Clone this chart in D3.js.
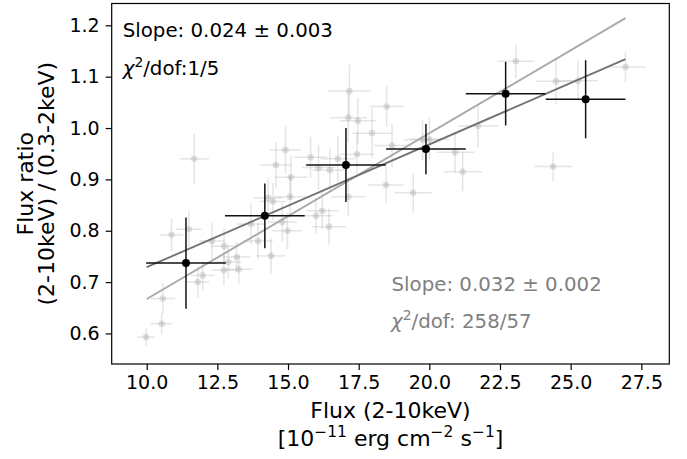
<!DOCTYPE html>
<meta charset="utf-8">
<style>
body { margin: 0; background: #fff; }
text { font-family: "DejaVu Sans", sans-serif; }
.axis path, .axis line { stroke: #000; stroke-width: 1.2px; }
.axis text { font-size: 19px; fill: #000; }
</style>
<body>
<script src="https://cdn.jsdelivr.net/npm/d3@7"></script>
<script>

// individual observations (grey)
var obsFlux  = [9.98, 10.53, 10.57, 10.88, 11.49, 11.68, 11.81, 11.98, 12.31, 12.73, 12.74, 12.89, 13.18,
                13.26, 13.69, 13.94, 14.30, 14.47, 14.40, 14.57, 14.91, 14.80, 14.98, 15.07, 15.10, 15.80,
                15.99, 16.08, 16.21, 16.45, 16.48, 16.76, 17.13, 17.17, 17.13, 17.47, 17.44, 17.97, 18.49,
                18.68, 18.47, 19.43, 19.76, 20.00, 20.91, 21.18, 21.72, 23.06, 24.48, 25.26, 26.94, 24.38];
var obsRatio = [0.593, 0.619, 0.668, 0.792, 0.803, 0.940, 0.700, 0.713, 0.780, 0.723, 0.770, 0.739, 0.749,
                0.725, 0.813, 0.780, 0.864, 0.857, 0.751, 0.928, 0.957, 0.817, 0.800, 0.866, 0.904, 0.943,
                0.829, 0.923, 0.839, 0.808, 0.918, 0.940, 0.866, 1.072, 1.020, 1.014, 0.949, 0.990, 1.042,
                0.966, 0.889, 0.874, 0.977, 0.978, 0.953, 0.915, 1.004, 1.130, 1.091, 1.092, 1.119, 0.925];
var obsFluxErr  = [0.31, 0.39, 0.43, 0.41, 0.45, 0.52, 0.40, 0.42, 0.45, 0.44, 0.48, 0.46, 0.50,
                   0.47, 0.50, 0.52, 0.50, 0.48, 0.52, 0.55, 0.55, 0.52, 0.54, 0.56, 0.58, 0.58,
                   0.57, 0.60, 0.58, 0.60, 0.62, 0.62, 0.60, 0.75, 0.66, 0.64, 0.62, 0.68, 0.60,
                   0.65, 0.62, 0.66, 0.68, 0.70, 0.66, 0.68, 0.70, 0.65, 0.72, 0.70, 0.72, 0.67];
var obsRatioErr = [0.017, 0.020, 0.030, 0.031, 0.035, 0.049, 0.030, 0.028, 0.035, 0.030, 0.036, 0.032, 0.030,
                   0.028, 0.040, 0.035, 0.038, 0.036, 0.034, 0.045, 0.046, 0.038, 0.036, 0.040, 0.042, 0.040,
                   0.035, 0.044, 0.036, 0.035, 0.042, 0.045, 0.038, 0.052, 0.048, 0.045, 0.042, 0.048, 0.039,
                   0.042, 0.036, 0.038, 0.040, 0.042, 0.040, 0.038, 0.042, 0.033, 0.045, 0.040, 0.030, 0.029];

// binned averages (black)
var binFlux     = [11.39, 14.18, 17.05, 19.88, 22.70, 25.53];
var binRatio    = [0.737, 0.829, 0.928, 0.959, 1.067, 1.056];
var binFluxErr  = [1.41, 1.41, 1.41, 1.41, 1.41, 1.41];
var binRatioErr = [0.089, 0.063, 0.072, 0.049, 0.062, 0.076];

// linear fits, evaluated at the ends
var fitFlux   = [10.0, 26.94];
var fitAll    = [0.667, 1.214];   // slope 0.032, all points
var fitBinned = [0.729, 1.134];   // slope 0.024, binned points

var xTicks = [10.0, 12.5, 15.0, 17.5, 20.0, 22.5, 25.0, 27.5];
var yTicks = [0.6, 0.7, 0.8, 0.9, 1.0, 1.1, 1.2];

var W = 687, H = 459;
var plotL = 111.7, plotR = 669.3, plotT = 3.5, plotB = 364;

var x = d3.scaleLinear().domain([8.762, 28.49]).range([plotL, plotR]);
var y = d3.scaleLinear().domain([0.5405, 1.2425]).range([plotB, plotT]);

var svg = d3.select("body").append("svg")
    .attr("width", W)
    .attr("height", H);

// grey observations
var obs = obsFlux.map(function(f, i) {
  return {x: f, y: obsRatio[i], xe: obsFluxErr[i], ye: obsRatioErr[i]};
});
var g1 = svg.append("g");
g1.selectAll(".ex").data(obs).enter().append("line")
    .attr("x1", function(d) { return x(d.x - d.xe); })
    .attr("x2", function(d) { return x(d.x + d.xe); })
    .attr("y1", function(d) { return y(d.y); })
    .attr("y2", function(d) { return y(d.y); })
    .attr("stroke", "#999").attr("stroke-opacity", 0.25).attr("stroke-width", 1.5);
g1.selectAll(".ey").data(obs).enter().append("line")
    .attr("x1", function(d) { return x(d.x); })
    .attr("x2", function(d) { return x(d.x); })
    .attr("y1", function(d) { return y(d.y - d.ye); })
    .attr("y2", function(d) { return y(d.y + d.ye); })
    .attr("stroke", "#999").attr("stroke-opacity", 0.25).attr("stroke-width", 1.5);
g1.selectAll("circle").data(obs).enter().append("circle")
    .attr("cx", function(d) { return x(d.x); })
    .attr("cy", function(d) { return y(d.y); })
    .attr("r", 3.3)
    .attr("fill", "#999").attr("fill-opacity", 0.3);

// fit lines
var line = d3.line()
    .x(function(d) { return x(d[0]); })
    .y(function(d) { return y(d[1]); });
svg.append("path")
    .attr("d", line(d3.zip(fitFlux, fitAll)))
    .attr("fill", "none").attr("stroke", "#aaaaaa").attr("stroke-width", 1.9);
svg.append("path")
    .attr("d", line(d3.zip(fitFlux, fitBinned)))
    .attr("fill", "none").attr("stroke", "#737373").attr("stroke-width", 1.9);

// binned points
var bins = binFlux.map(function(f, i) {
  return {x: f, y: binRatio[i], xe: binFluxErr[i], ye: binRatioErr[i]};
});
var g2 = svg.append("g");
g2.selectAll(".ex").data(bins).enter().append("line")
    .attr("x1", function(d) { return x(d.x - d.xe); })
    .attr("x2", function(d) { return x(d.x + d.xe); })
    .attr("y1", function(d) { return y(d.y); })
    .attr("y2", function(d) { return y(d.y); })
    .attr("stroke", "#111").attr("stroke-width", 1.5);
g2.selectAll(".ey").data(bins).enter().append("line")
    .attr("x1", function(d) { return x(d.x); })
    .attr("x2", function(d) { return x(d.x); })
    .attr("y1", function(d) { return y(d.y - d.ye); })
    .attr("y2", function(d) { return y(d.y + d.ye); })
    .attr("stroke", "#111").attr("stroke-width", 1.5);
g2.selectAll("circle").data(bins).enter().append("circle")
    .attr("cx", function(d) { return x(d.x); })
    .attr("cy", function(d) { return y(d.y); })
    .attr("r", 4)
    .attr("fill", "#000");

// axes
svg.append("g")
    .attr("class", "axis")
    .attr("transform", "translate(0," + plotB + ")")
    .call(d3.axisBottom(x).tickValues(xTicks).tickFormat(d3.format(".1f")).tickSize(6).tickPadding(6).tickSizeOuter(0))
    .call(function(g) { g.select(".domain").remove(); })
    .selectAll("text").attr("dy", "0.71em");

svg.append("g")
    .attr("class", "axis")
    .attr("transform", "translate(" + plotL + ",0)")
    .call(d3.axisLeft(y).tickValues(yTicks).tickFormat(d3.format(".1f")).tickSize(6).tickPadding(6).tickSizeOuter(0))
    .call(function(g) { g.select(".domain").remove(); });

// frame
svg.append("rect")
    .attr("x", plotL).attr("y", plotT)
    .attr("width", plotR - plotL).attr("height", plotB - plotT)
    .attr("fill", "none").attr("stroke", "#000").attr("stroke-width", 1.2);

// annotations
function chiLabel(tx, ty, col, rest) {
  var t = svg.append("text").attr("x", tx).attr("y", ty)
      .attr("font-size", 19.8).attr("fill", col);
  t.append("tspan").attr("font-style", "italic").text("χ");
  t.append("tspan").attr("dy", -8).attr("font-size", 13.8).text("2");
  t.append("tspan").attr("dy", 8).text(rest);
}
svg.append("text").attr("x", 122.7).attr("y", 36.7)
    .attr("font-size", 19.8).attr("fill", "#000")
    .text("Slope: 0.024 ± 0.003");
chiLabel(122.7, 75, "#000", "/dof:1/5");

svg.append("text").attr("x", 391.5).attr("y", 290.7)
    .attr("font-size", 19.8).attr("fill", "#808080")
    .text("Slope: 0.032 ± 0.002");
chiLabel(391, 328.3, "#808080", "/dof: 258/57");

// axis labels
var cx = (plotL + plotR) / 2;
svg.append("text").attr("x", cx).attr("y", 418)
    .attr("text-anchor", "middle").attr("font-size", 22)
    .text("Flux (2-10keV)");
var xl = svg.append("text").attr("x", cx).attr("y", 446)
    .attr("text-anchor", "middle").attr("font-size", 22);
xl.append("tspan").text("[10");
xl.append("tspan").attr("dy", -9).attr("font-size", 15.5).text("−11");
xl.append("tspan").attr("dy", 9).text(" erg cm");
xl.append("tspan").attr("dy", -9).attr("font-size", 15.5).text("−2");
xl.append("tspan").attr("dy", 9).text(" s");
xl.append("tspan").attr("dy", -9).attr("font-size", 15.5).text("−1");
xl.append("tspan").attr("dy", 9).text("]");

var cy = (plotT + plotB) / 2;
svg.append("text")
    .attr("transform", "translate(33," + cy + ") rotate(-90)")
    .attr("text-anchor", "middle").attr("font-size", 22)
    .text("Flux ratio");
svg.append("text")
    .attr("transform", "translate(54," + cy + ") rotate(-90)")
    .attr("text-anchor", "middle").attr("font-size", 22)
    .text("(2-10keV) / (0.3-2keV)");

</script>
</body>
